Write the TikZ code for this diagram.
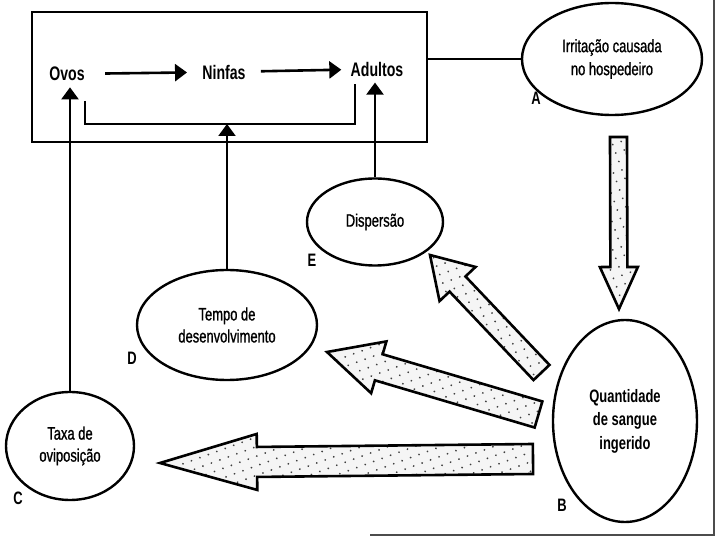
\documentclass[tikz,border=0pt]{standalone}
\usepackage{fontspec}
\setmainfont{Liberation Sans}[FakeStretch=0.72]
\newfontfamily\medio{Liberation Sans}[FakeStretch=0.72, FakeBold=1]
\usetikzlibrary{shapes.geometric, arrows.meta, calc, patterns.meta}

\tikzset{
  elipse/.style={draw, ellipse, line width=1.2pt, inner sep=0pt, align=center},
  texto/.style={font=\medio\fontsize{9}{11.5}\selectfont},
  textomedio/.style={font=\medio\fontsize{9}{11}\selectfont},
  textonegrito/.style={font=\fontsize{9}{11.7}\selectfont\bfseries},
  etapa/.style={font=\fontsize{9.8}{11}\selectfont\bfseries, inner sep=3pt},
  rotulo/.style={font=\fontsize{9}{11}\selectfont\bfseries},
  fino/.style={line width=1.1pt},
  seta/.style={fino, -{Triangle[length=6pt, width=8.5pt]}},
  grossa/.style={draw, line width=1.3pt, line join=miter,
    preaction={fill=gray!8},
    preaction={pattern={Dots[distance=4.5pt, radius=0.5pt, angle=20]}, pattern color=black!75}},
}

% seta larga: cauda, ponta, meia largura da haste, meia largura da cabeca, comprimento da cabeca
\newcommand\setagrossa[5]{%
  \coordinate (base) at ($(#2)!#5!(#1)$);
  \draw[grossa] ($(#1)!#3!90:(#2)$) -- ($(base)!#3!90:(#2)$) -- ($(base)!#4!90:(#2)$)
    -- (#2) -- ($(base)!#4!-90:(#2)$) -- ($(base)!#3!-90:(#2)$) -- ($(#1)!#3!-90:(#2)$) -- cycle;
}

\begin{document}
\begin{tikzpicture}[x=0.5pt, y=-0.5pt]
    \useasboundingbox (0,0) rectangle (720,540);

    % Ciclo de vida
    \node (ciclo) [draw, line width=1.4pt, minimum width=197.5pt, minimum height=65pt] at (229.5,77) {};
    \node (ovos) [etapa] at (67,74) {Ovos};
    \node (ninfas) [etapa] at (224,72) {Ninfas};
    \node (adultos) [etapa] at (377,69) {Adultos};
    \draw[seta, line width=1.3pt, shorten <=7pt, shorten >=4.5pt] (ovos) -- (ninfas);
    \draw[seta, line width=1.3pt, shorten <=4.5pt, shorten >=1.5pt] (ninfas) -- (adultos);
    \coordinate (ret) at (227,124);
    \draw[fino] (85,101) |- (ret) -| (355,84);

    % Fatores
    \node (irrit) [elipse, texto, minimum width=90pt, minimum height=56pt] at (612,59) {Irritação causada\\no hospedeiro};
    \node (sangue) [elipse, textonegrito, minimum width=72pt, minimum height=101pt] at (625,421) {Quantidade\\de sangue\\ingerido};
    \node (taxa) [elipse, textomedio, minimum width=64pt, minimum height=54pt] at (70,446) {Taxa de\\oviposição};
    \node (tempo) [elipse, textomedio, minimum width=90pt, minimum height=55pt] at (227,325) {Tempo de\\desenvolvimento};
    \node (disp) [elipse, textomedio, minimum width=68pt, minimum height=43.5pt] at (375,222) {Dispersão};

    \node (rotA) [rotulo] at (536,98) {A};
    \node (rotB) [rotulo] at (562,505) {B};
    \node (rotC) [rotulo] at (18,498) {C};
    \node (rotD) [rotulo] at (132,358) {D};
    \node (rotE) [rotulo] at (312,260) {E};

    % Ligacoes com o ciclo
    \draw[fino] (ciclo.east |- irrit.west) -- (irrit.west);
    \draw[seta] (taxa.north) -- (taxa.north |- ovos.south);
    \draw[seta] (tempo.north) -- (ret);
    \draw[seta] (disp.north) -- (disp.north |- adultos.south);

    % Setas largas
    \coordinate (caudaA) at (618.5,137);
    \coordinate (pontaA) at (619,309);
    \coordinate (caudaE) at (541.5,372.5);
    \coordinate (pontaE) at (430,255);
    \coordinate (caudaD) at (538.5,414.5);
    \coordinate (pontaD) at (327,352);
    \coordinate (caudaC) at (533,459);
    \coordinate (pontaC) at (160,463);
    \setagrossa{caudaA}{pontaA}{4.25pt}{9.5pt}{21pt}
    \setagrossa{caudaE}{pontaE}{5.5pt}{12.4pt}{20pt}
    \setagrossa{caudaD}{pontaD}{6.8pt}{13.5pt}{27pt}
    \setagrossa{caudaC}{pontaC}{7.5pt}{14pt}{48.5pt}

    % Borda da pagina
    \draw[black!70, line width=0.8pt] (714,0) -- (714,535) -- (370,535);
\end{tikzpicture}
\end{document}
